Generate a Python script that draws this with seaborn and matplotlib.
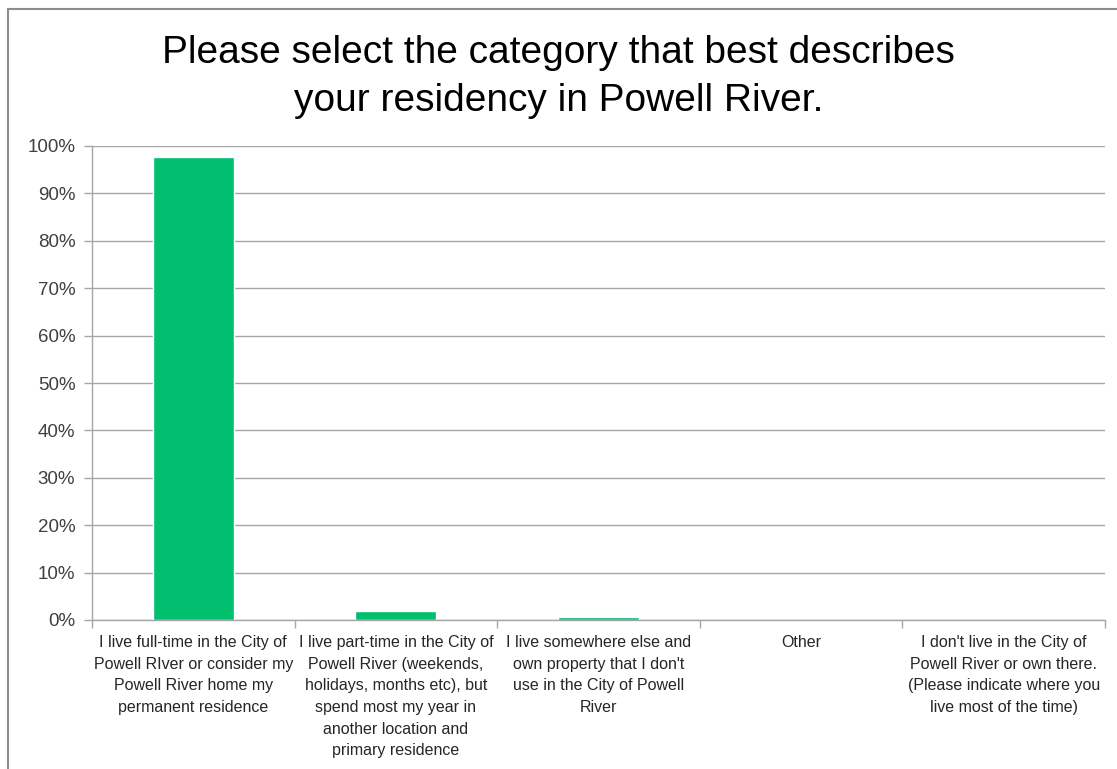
import matplotlib
matplotlib.use("Agg")
import matplotlib.pyplot as plt
import seaborn as sns
import pandas as pd
from matplotlib.lines import Line2D
from matplotlib.ticker import PercentFormatter, FixedLocator

# data
categories = [
    "I live full-time in the City of\nPowell RIver or consider my\nPowell River home my\npermanent residence",
    "I live part-time in the City of\nPowell River (weekends,\nholidays, months etc), but\nspend most my year in\nanother location and\nprimary residence",
    "I live somewhere else and\nown property that I don't\nuse in the City of Powell\nRiver",
    "Other",
    "I don't live in the City of\nPowell River or own there.\n(Please indicate where you\nlive most of the time)",
]
values = [97.7, 2.0, 0.6, 0.0, 0.0]
title = "Please select the category that best describes\nyour residency in Powell River."

bar_color = "#00BF6F"
grey = "#A6A6A6"

sns.set_style("white")
plt.rcParams['font.family'] = ['Liberation Sans', 'DejaVu Sans']

df = pd.DataFrame({"cat": categories, "val": values})

fig = plt.figure(figsize=(11.17, 7.69), dpi=100)
ax = fig.add_axes([92 / 1117, 1 - 620 / 769, (1105 - 92) / 1117, (620 - 146) / 769])

sns.barplot(data=df, x="cat", y="val", color=bar_color, width=0.40,
            saturation=1, ax=ax)

ax.set_ylim(0, 100)
ax.set_xlim(-0.5, len(categories) - 0.5)
ax.yaxis.set_major_locator(FixedLocator(range(0, 101, 10)))
ax.yaxis.set_major_formatter(PercentFormatter(decimals=0))
ax.grid(axis="y", color=grey, linewidth=1)
ax.set_axisbelow(True)
ax.set_xlabel("")
ax.set_ylabel("")

for side in ["top", "right"]:
    ax.spines[side].set_visible(False)
for side in ["left", "bottom"]:
    ax.spines[side].set_color(grey)
    ax.spines[side].set_linewidth(1)

# ticks on the category boundaries, labels centred under the bars
ax.set_xticks([i - 0.5 for i in range(len(categories) + 1)], minor=True)
ax.tick_params(axis="x", which="minor", bottom=True, direction="out",
               length=6, color=grey, width=1)
ax.tick_params(axis="x", which="major", bottom=False, length=0, pad=11)
ax.tick_params(axis="y", left=True, direction="out", length=6,
               color=grey, width=1, pad=6)
for lbl in ax.get_xticklabels():
    lbl.set_fontsize(11.5)
    lbl.set_linespacing(1.55)
for lbl in ax.get_yticklabels():
    lbl.set_fontsize(13.5)
    lbl.set_color("#404040")

fig.text(0.5, 1 - 77 / 769, title, ha="center", va="center",
         fontsize=28, color="black", linespacing=1.42)

# chart frame edge
fig.add_artist(Line2D([8 / 1117, 8 / 1117], [0, 1 - 9 / 769],
                      transform=fig.transFigure, color="#8C8C8C", linewidth=1.5))
fig.add_artist(Line2D([8 / 1117, 1], [1 - 9 / 769, 1 - 9 / 769],
                      transform=fig.transFigure, color="#8C8C8C", linewidth=1.5))

fig.savefig("out.png", dpi=100)
